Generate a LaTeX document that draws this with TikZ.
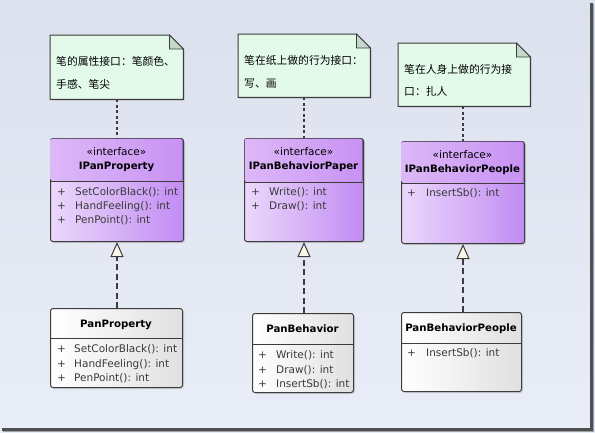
\documentclass[tikz,border=0pt]{standalone}
\usepackage{fontspec}
\setmainfont{DejaVu Sans}
\newfontfamily\cjk{Noto Sans CJK SC}
\usetikzlibrary{arrows.meta,shadows,calc}
\definecolor{bgtop}{HTML}{DCE1EE}
\definecolor{bgbot}{HTML}{E9EDF7}
\definecolor{frame}{HTML}{505050}
\definecolor{boxline}{HTML}{3C3C3C}
\definecolor{ifl}{HTML}{EBD8FB}
\definecolor{ifr}{HTML}{C28CF3}
\definecolor{iftl}{HTML}{DDB8F7}
\definecolor{iftr}{HTML}{C892F4}
\definecolor{clr}{HTML}{E0E0E0}
\definecolor{notefill}{HTML}{E3FAEA}
\definecolor{foldfill}{HTML}{C5D9CB}
\definecolor{attrcol}{HTML}{3A3A3A}
\definecolor{tipfill}{HTML}{FBF6E9}
\tikzset{
  ifbox/.style={draw=boxline, line width=1pt, rounded corners=2.5pt, left color=ifl, right color=ifr,
    drop shadow={shadow xshift=1.5pt, shadow yshift=-1.5pt, opacity=0.25}, inner sep=0, anchor=north west},
  clbox/.style={draw=boxline, line width=1pt, rounded corners=2.5pt, left color=white, right color=clr,
    drop shadow={shadow xshift=1.5pt, shadow yshift=-1.5pt, opacity=0.25}, inner sep=0, anchor=north west},
  notebox/.style={inner sep=0, anchor=north west},
  attr/.style={font=\fontsize{10.5}{12}\selectfont, text=attrcol, inner sep=0, anchor=mid west},
  stereo/.style={font=\fontsize{10.5}{12}\selectfont, text=black, inner sep=0, anchor=mid},
  cname/.style={font=\fontsize{10.2}{12}\selectfont\bfseries, text=black, inner sep=0, anchor=mid},
  notetext/.style={font=\cjk\fontsize{10.8}{12}\selectfont, text=black, inner sep=0, anchor=mid west},
  sepline/.style={draw=boxline, line width=1pt},
  noteline/.style={draw=boxline, line width=1.2pt, dash pattern=on 3pt off 2.5pt},
  realize/.style={draw=boxline, line width=1.2pt, dash pattern=on 6pt off 3.5pt,
    -{Triangle[open, length=15pt, width=13pt, fill=tipfill, line width=1pt]}}
}
\newcommand{\drawnote}[1]{%
  \fill[notefill, drop shadow={shadow xshift=1.5pt, shadow yshift=-1.5pt, opacity=0.25}]
    (#1.north west) -- ($(#1.north east)+(-14,0)$) -- ($(#1.north east)+(0,14)$) -- (#1.south east) -- (#1.south west) -- cycle;
  \draw[boxline, line width=1pt, line join=miter]
    (#1.north west) -- ($(#1.north east)+(-14,0)$) -- ($(#1.north east)+(0,14)$) -- (#1.south east) -- (#1.south west) -- cycle;
  \filldraw[fill=foldfill, draw=boxline, line width=0.8pt]
    ($(#1.north east)+(-14,0)$) -- ($(#1.north east)+(-14,14)$) -- ($(#1.north east)+(0,14)$) -- cycle;
}
\begin{document}
\begin{tikzpicture}[x=1pt,y=-1pt]
\useasboundingbox (0,0) rectangle (595,432);
% background and frame
\fill[top color=bgtop, bottom color=bgbot] (0,0) rectangle (595,432);
\fill[frame] (590,3) rectangle (592.5,430.5);
\fill[frame] (2,428) rectangle (592.5,430.5);
\fill[frame!50!bgbot] (592.5,4) rectangle (594,431.5);
\fill[frame!50!bgbot] (3,430.5) rectangle (594,431.5);

% notes
\node[notebox, minimum width=133pt, minimum height=64pt] (n1) at (50,35) {};
\node[notebox, minimum width=132pt, minimum height=63pt] (n2) at (238,34) {};
\node[notebox, minimum width=132pt, minimum height=63pt] (n3) at (398,43) {};
\drawnote{n1}
\drawnote{n2}
\drawnote{n3}
\node[notetext] (n1a) at (56,63) {笔的属性接口：笔颜色、};
\node[notetext] (n1b) at (56,86) {手感、笔尖};
\node[notetext] (n2a) at (244,62) {笔在纸上做的行为接口：};
\node[notetext] (n2b) at (244,85) {写、画};
\node[notetext] (n3a) at (404,71) {笔在人身上做的行为接};
\node[notetext] (n3b) at (404,93) {口：扎人};

% interfaces
\node[ifbox, minimum width=133pt, minimum height=103pt] (ip) at (50,138) {};
\node[ifbox, minimum width=119pt, minimum height=103pt] (ipp) at (244,138) {};
\node[ifbox, minimum width=123pt, minimum height=102pt] (ibp) at (401,141) {};
\fill[left color=iftl, right color=iftr, rounded corners=1.5pt] (50.6,181) -- (50.6,138.6) -- (182.4,138.6) -- (182.4,181) -- cycle;
\fill[left color=iftl, right color=iftr, rounded corners=1.5pt] (244.6,182) -- (244.6,138.6) -- (362.4,138.6) -- (362.4,182) -- cycle;
\fill[left color=iftl, right color=iftr, rounded corners=1.5pt] (401.6,183) -- (401.6,141.6) -- (523.4,141.6) -- (523.4,183) -- cycle;
\draw[sepline] (ip.west |- 0,181) -- (ip.east |- 0,181);
\draw[sepline] (ipp.west |- 0,182) -- (ipp.east |- 0,182);
\draw[sepline] (ibp.west |- 0,183) -- (ibp.east |- 0,183);

\node[stereo] (ips) at (116.5,153) {«interface»};
\node[cname] (ipn) at (116.5,167) {IPanProperty};
\node[attr] (ip1p) at (57,193) {+};
\node[attr] (ip1) at (75,193) {SetColorBlack(): int};
\node[attr] (ip2p) at (57,207) {+};
\node[attr] (ip2) at (75,207) {HandFeeling(): int};
\node[attr] (ip3p) at (57,221) {+};
\node[attr] (ip3) at (75,221) {PenPoint(): int};

\node[stereo] (ipps) at (303.5,153) {«interface»};
\node[cname] (ippn) at (303.5,167) {IPanBehaviorPaper};
\node[attr] (ipp1p) at (251,193) {+};
\node[attr] (ipp1) at (269,193) {Write(): int};
\node[attr] (ipp2p) at (251,207) {+};
\node[attr] (ipp2) at (269,207) {Draw(): int};

\node[stereo] (ibps) at (462.5,156) {«interface»};
\node[cname] (ibpn) at (462.5,170) {IPanBehaviorPeople};
\node[attr] (ibp1p) at (407,194) {+};
\node[attr] (ibp1) at (426,194) {InsertSb(): int};

% classes
\node[clbox, minimum width=132pt, minimum height=79pt] (pp) at (50,308) {};
\node[clbox, minimum width=101pt, minimum height=79pt] (pb) at (252,313) {};
\node[clbox, minimum width=120pt, minimum height=79pt] (pbp) at (401,312) {};
\draw[sepline] (pp.west |- 0,338) -- (pp.east |- 0,338);
\draw[sepline] (pb.west |- 0,344) -- (pb.east |- 0,344);
\draw[sepline] (pbp.west |- 0,343) -- (pbp.east |- 0,343);

\node[cname] (ppn) at (116,325) {PanProperty};
\node[attr] (pp1p) at (57,350) {+};
\node[attr] (pp1) at (74,350) {SetColorBlack(): int};
\node[attr] (pp2p) at (57,365) {+};
\node[attr] (pp2) at (74,365) {HandFeeling(): int};
\node[attr] (pp3p) at (57,379) {+};
\node[attr] (pp3) at (74,379) {PenPoint(): int};

\node[cname] (pbn) at (302.5,330) {PanBehavior};
\node[attr] (pb1p) at (258,356) {+};
\node[attr] (pb1) at (276,356) {Write(): int};
\node[attr] (pb2p) at (258,371) {+};
\node[attr] (pb2) at (276,371) {Draw(): int};
\node[attr] (pb3p) at (258,385) {+};
\node[attr] (pb3) at (276,385) {InsertSb(): int};

\node[cname] (pbpn) at (461,329) {PanBehaviorPeople};
\node[attr] (pbp1p) at (407,354) {+};
\node[attr] (pbp1) at (426,354) {InsertSb(): int};

% note links
\draw[noteline] (n1.south -| ip.north) -- (ip.north);
\draw[noteline] (n2.south -| ipp.north) -- (ipp.north);
\draw[noteline] (n3.south -| ibp.north) -- (ibp.north);

% realizations
\draw[realize] (pp.north -| ip.south) -- (ip.south);
\draw[realize] (pb.north -| ipp.south) -- (ipp.south);
\draw[realize] (pbp.north -| ibp.south) -- (ibp.south);
\end{tikzpicture}
\end{document}
